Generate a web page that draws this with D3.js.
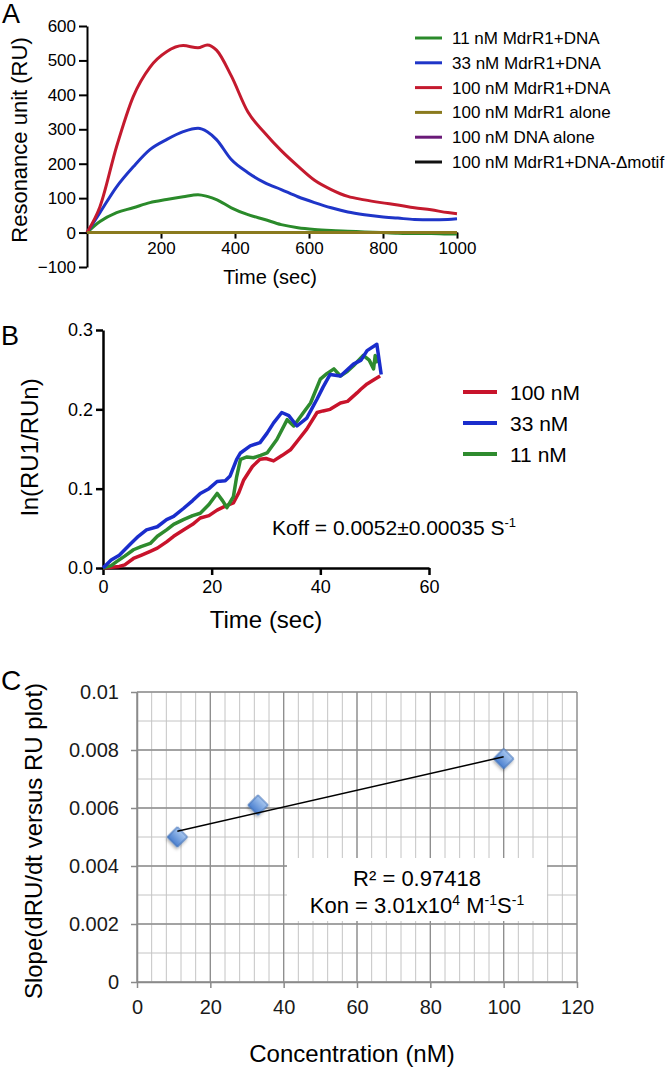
<!DOCTYPE html>
<html>
<head>
<meta charset="utf-8">
<script src="https://cdn.jsdelivr.net/npm/d3@7"></script>
<style>
  body { margin: 0; background: #fff; }
  svg { display: block; font-family: "Liberation Sans", Arial, sans-serif; }
</style>
</head>
<body>
<script>
// ---- panel A: sensorgrams ----
const timeA = [0, 35, 80, 125, 170, 215, 260, 300, 325, 350, 390, 435, 480, 525, 570, 615, 660, 705, 750, 795, 840, 885, 930, 975, 1000];
const ru11 = [0, 32, 58, 72, 87, 96, 104, 110, 105, 96, 72, 52, 38, 23, 14, 9, 6, 4, 2, 0, -2, -3, -3, -4, -4];
const ru33 = [0, 58, 133, 191, 241, 270, 293, 303, 293, 270, 212, 174, 145, 125, 104, 87, 72, 60, 52, 46, 42, 38, 37, 38, 40];
const ru100 = [0, 75, 250, 395, 480, 525, 543, 537, 545, 530, 455, 350, 290, 238, 193, 152, 125, 105, 95, 87, 80, 72, 66, 58, 55];
const timeFlat = [0, 1000];
const ruMdrAlone = [0, 0];
const ruDnaAlone = [0, 0];
const ruDeltaMotif = [0, 0];
const legendA = ["11 nM MdrR1+DNA", "33 nM MdrR1+DNA", "100 nM MdrR1+DNA", "100 nM MdrR1 alone", "100 nM DNA alone", "100 nM MdrR1+DNA-\u0394motif"];
const colorsA = ["#2a8a2a", "#1f35c8", "#c41a2e", "#8a7a1e", "#6a1a78", "#111111"];
const yTicksA = [-100, 0, 100, 200, 300, 400, 500, 600];
const xTicksA = [200, 400, 600, 800, 1000];

// ---- panel B: ln(RU1/RUn) vs time ----
const tB100 = [0, 3, 4, 5.6, 7, 8.7, 10, 11.7, 13, 14.8, 16.5, 17.9, 19.5, 21, 22.5, 24, 25, 25.9, 27.5, 28.9, 30, 31.4, 33, 34.5, 36, 37.5, 39.4, 40.5, 41.8, 43.7, 45, 46.8, 47.4, 48.6, 50, 51];
const vB100 = [0, 0.002, 0.004, 0.012, 0.016, 0.021, 0.025, 0.033, 0.040, 0.048, 0.055, 0.063, 0.066, 0.073, 0.078, 0.082, 0.095, 0.111, 0.128, 0.137, 0.138, 0.135, 0.142, 0.149, 0.162, 0.175, 0.196, 0.198, 0.200, 0.208, 0.210, 0.221, 0.225, 0.232, 0.238, 0.242];
const tB33 = [0, 1.5, 3, 5, 6.5, 8, 10, 11.7, 13, 14.8, 16.5, 17.9, 19.5, 21, 22.5, 23.4, 24.6, 25.3, 27.1, 28.9, 30.2, 31.4, 32.9, 34.2, 35.7, 37.5, 39.4, 40.5, 41.8, 43.7, 45, 46.1, 47.5, 48.6, 50.4, 51.2];
const vB33 = [0, 0.010, 0.016, 0.030, 0.040, 0.048, 0.052, 0.061, 0.065, 0.075, 0.085, 0.094, 0.100, 0.109, 0.110, 0.116, 0.137, 0.145, 0.154, 0.158, 0.170, 0.183, 0.196, 0.192, 0.179, 0.189, 0.213, 0.228, 0.244, 0.242, 0.250, 0.257, 0.262, 0.274, 0.282, 0.244];
const tB11 = [0, 1.5, 2.5, 4, 5.6, 7, 8.7, 10, 11.7, 13, 14.8, 16.5, 17.9, 19.5, 21, 22, 22.8, 24, 24.6, 25.3, 26.5, 27.7, 29, 30.2, 32, 33.9, 35.1, 36.9, 38.2, 40, 41.2, 42.5, 43.7, 45, 46.1, 47.9, 49, 49.8, 50.1, 50.5];
const vB11 = [0, 0.003, 0.008, 0.015, 0.023, 0.027, 0.031, 0.040, 0.048, 0.055, 0.061, 0.066, 0.069, 0.080, 0.094, 0.085, 0.076, 0.090, 0.115, 0.137, 0.140, 0.139, 0.142, 0.145, 0.162, 0.187, 0.179, 0.196, 0.208, 0.238, 0.245, 0.251, 0.242, 0.248, 0.255, 0.268, 0.262, 0.251, 0.268, 0.258];
const legendB = ["100 nM", "33 nM", "11 nM"];
const colorsB = ["#c8132b", "#1a2dcc", "#2e8b2e"];
const yTicksB = [0, 0.1, 0.2, 0.3];
const xTicksB = [0, 20, 40, 60];

// ---- panel C: slope vs concentration ----
const concC = [11, 33, 100];
const slopeC = [0.0050, 0.0061, 0.0077];
const xTicksC = [0, 20, 40, 60, 80, 100, 120];
const yTicksC = [0, 0.002, 0.004, 0.006, 0.008, 0.01];

const FONT = "Liberation Sans, Arial, sans-serif";

const svg = d3.select("body").append("svg")
  .attr("width", 666)
  .attr("height", 1070);

function styleAxis(g, color, width, size, textColor) {
  g.attr("font-family", FONT).attr("font-size", size);
  g.selectAll("path, line").attr("stroke", color).attr("stroke-width", width);
  g.selectAll("text").attr("fill", textColor || "#000");
}

/* ========== Panel A ========== */
const xA = d3.scaleLinear().domain([0, 1000]).range([87, 457]);
const yA = d3.scaleLinear().domain([-100, 600]).range([267, 26]);

svg.append("g")
  .attr("transform", `translate(${xA(0)},0)`)
  .call(d3.axisLeft(yA).tickValues(yTicksA).tickSize(8).tickSizeOuter(0).tickPadding(3))
  .call(g => styleAxis(g, "#000", 2, 17));

svg.append("g")
  .attr("transform", `translate(0,${yA(0)})`)
  .call(d3.axisBottom(xA).tickValues(xTicksA).tickFormat(d3.format("d")).tickSize(6).tickSizeOuter(0).tickPadding(3))
  .call(g => styleAxis(g, "#000", 2, 17));

const lineA = (ts) => d3.line()
  .x((d, i) => xA(ts[i]))
  .y(d => yA(d))
  .curve(d3.curveMonotoneX);

const seriesA = [
  {t: timeFlat, v: ruDeltaMotif, c: colorsA[5]},
  {t: timeFlat, v: ruDnaAlone, c: colorsA[4]},
  {t: timeA, v: ru11, c: colorsA[0]},
  {t: timeA, v: ru33, c: colorsA[1]},
  {t: timeA, v: ru100, c: colorsA[2]},
  {t: timeFlat, v: ruMdrAlone, c: colorsA[3]}
];
svg.append("g").selectAll("path")
  .data(seriesA)
  .join("path")
  .attr("fill", "none")
  .attr("stroke", d => d.c)
  .attr("stroke-width", 3)
  .attr("d", d => lineA(d.t)(d.v));

// legend A
const legA = svg.append("g").selectAll("g")
  .data(legendA)
  .join("g")
  .attr("transform", (d, i) => `translate(0,${38 + i * 24.8})`);
legA.append("line")
  .attr("x1", 415).attr("x2", 442)
  .attr("stroke", (d, i) => colorsA[i])
  .attr("stroke-width", 3);
legA.append("text")
  .attr("x", 452).attr("y", 6)
  .attr("font-size", 17)
  .text(d => d);

svg.append("text")
  .attr("transform", "translate(27,140) rotate(-90)")
  .attr("text-anchor", "middle")
  .attr("font-size", 22)
  .text("Resonance unit (RU)");
svg.append("text")
  .attr("x", 270).attr("y", 284)
  .attr("text-anchor", "middle")
  .attr("font-size", 20)
  .text("Time (sec)");
svg.append("text").attr("x", 2).attr("y", 23).attr("font-size", 27).text("A");

/* ========== Panel B ========== */
const xB = d3.scaleLinear().domain([0, 60]).range([103, 429]);
const yB = d3.scaleLinear().domain([0, 0.3]).range([568, 330]);

svg.append("g")
  .attr("transform", `translate(${xB(0)},0)`)
  .call(d3.axisLeft(yB).tickValues(yTicksB).tickFormat(d3.format(".1f")).tickSize(7).tickSizeOuter(0).tickPadding(3))
  .call(g => styleAxis(g, "#000", 2.5, 18));

svg.append("g")
  .attr("transform", `translate(0,${yB(0)})`)
  .call(d3.axisBottom(xB).tickValues(xTicksB).tickSize(7).tickSizeOuter(0).tickPadding(5))
  .call(g => styleAxis(g, "#000", 2.5, 18));

const lineB = (ts) => d3.line()
  .x((d, i) => xB(ts[i]))
  .y(d => yB(d));

const seriesB = [
  {t: tB100, v: vB100, c: colorsB[0]},
  {t: tB11, v: vB11, c: colorsB[2]},
  {t: tB33, v: vB33, c: colorsB[1]}
];
svg.append("g").selectAll("path")
  .data(seriesB)
  .join("path")
  .attr("fill", "none")
  .attr("stroke", d => d.c)
  .attr("stroke-width", 3.5)
  .attr("stroke-linejoin", "round")
  .attr("d", d => lineB(d.t)(d.v));

const legB = svg.append("g").selectAll("g")
  .data(legendB)
  .join("g")
  .attr("transform", (d, i) => `translate(0,${392 + i * 31})`);
legB.append("line")
  .attr("x1", 463).attr("x2", 497)
  .attr("stroke", (d, i) => colorsB[i])
  .attr("stroke-width", 4);
legB.append("text")
  .attr("x", 510).attr("y", 7.5)
  .attr("font-size", 21)
  .text(d => d);

const koff = svg.append("text")
  .attr("x", 272).attr("y", 535)
  .attr("font-size", 21);
koff.append("tspan").text("Koff = 0.0052\u00b10.00035 S");
koff.append("tspan").attr("font-size", 13).attr("dy", -8).text("-1");

svg.append("text")
  .attr("transform", "translate(38,447) rotate(-90)")
  .attr("text-anchor", "middle")
  .attr("font-size", 24)
  .text("ln(RU1/RUn)");
svg.append("text")
  .attr("x", 266).attr("y", 628)
  .attr("text-anchor", "middle")
  .attr("font-size", 24)
  .text("Time (sec)");
svg.append("text").attr("x", 1).attr("y", 345).attr("font-size", 27).text("B");

/* ========== Panel C ========== */
const xC = d3.scaleLinear().domain([0, 120]).range([137, 577]);
const yC = d3.scaleLinear().domain([0, 0.01]).range([982, 692]);

const grid = svg.append("g");
grid.selectAll("line.vminor")
  .data(d3.range(0, 121, 4))
  .join("line")
  .attr("class", "vminor")
  .attr("x1", d => xC(d)).attr("x2", d => xC(d))
  .attr("y1", yC(0)).attr("y2", yC(0.01))
  .attr("stroke", "#c4c4c4").attr("stroke-width", 1);
grid.selectAll("line.hminor")
  .data(d3.range(0, 11).map(d => d / 1000))
  .join("line")
  .attr("class", "hminor")
  .attr("x1", xC(0)).attr("x2", xC(120))
  .attr("y1", d => yC(d)).attr("y2", d => yC(d))
  .attr("stroke", "#c4c4c4").attr("stroke-width", 1);
grid.selectAll("line.vmajor")
  .data(xTicksC)
  .join("line")
  .attr("class", "vmajor")
  .attr("x1", d => xC(d)).attr("x2", d => xC(d))
  .attr("y1", yC(0)).attr("y2", yC(0.01))
  .attr("stroke", "#8e8e8e").attr("stroke-width", 1.3);
grid.selectAll("line.hmajor")
  .data(yTicksC)
  .join("line")
  .attr("class", "hmajor")
  .attr("x1", xC(0)).attr("x2", xC(120))
  .attr("y1", d => yC(d)).attr("y2", d => yC(d))
  .attr("stroke", "#8e8e8e").attr("stroke-width", 1.3);

const fmtC = d => d === 0 ? "0" : String(+d.toFixed(3));
svg.append("g")
  .attr("transform", `translate(${xC(0)},0)`)
  .call(d3.axisLeft(yC).tickValues(yTicksC).tickFormat(fmtC).tickSize(6).tickSizeOuter(0).tickPadding(12))
  .call(g => styleAxis(g, "#8a8a8a", 1.5, 20, "#1a1a1a"));
svg.append("g")
  .attr("transform", `translate(0,${yC(0)})`)
  .call(d3.axisBottom(xC).tickValues(xTicksC).tickSize(6).tickSizeOuter(0).tickPadding(12))
  .call(g => styleAxis(g, "#8a8a8a", 1.5, 20, "#1a1a1a"));

// annotation box
svg.append("rect")
  .attr("x", 287).attr("y", 858)
  .attr("width", 260).attr("height", 63)
  .attr("fill", "#fff");

// diamonds
const defs = svg.append("defs");
const grad = defs.append("linearGradient")
  .attr("id", "dia").attr("x1", 0).attr("y1", 0).attr("x2", 0).attr("y2", 1);
grad.append("stop").attr("offset", "0%").attr("stop-color", "#a9c8f0");
grad.append("stop").attr("offset", "100%").attr("stop-color", "#4a7fcf");
const shadow = defs.append("filter").attr("id", "shd")
  .attr("x", "-50%").attr("y", "-50%").attr("width", "200%").attr("height", "200%");
shadow.append("feDropShadow")
  .attr("dx", 1).attr("dy", 2).attr("stdDeviation", 1.5)
  .attr("flood-color", "#000").attr("flood-opacity", 0.3);

const pts = concC.map((c, i) => ({x: c, y: slopeC[i]}));
svg.append("g").selectAll("path")
  .data(pts)
  .join("path")
  .attr("transform", d => `translate(${xC(d.x)},${yC(d.y)}) rotate(45)`)
  .attr("d", d3.symbol(d3.symbolSquare, 200))
  .attr("fill", "url(#dia)")
  .attr("stroke", "#3f70b8")
  .attr("stroke-width", 1)
  .attr("filter", "url(#shd)");

// least-squares trend line
const mx = d3.mean(concC), my = d3.mean(slopeC);
const sxy = d3.sum(concC, (c, i) => (c - mx) * (slopeC[i] - my));
const sxx = d3.sum(concC, c => (c - mx) ** 2);
const slope = sxy / sxx, icpt = my - slope * mx;
const x0 = d3.min(concC), x1 = d3.max(concC);
svg.append("line")
  .attr("x1", xC(x0)).attr("y1", yC(icpt + slope * x0))
  .attr("x2", xC(x1)).attr("y2", yC(icpt + slope * x1))
  .attr("stroke", "#000").attr("stroke-width", 1.5);

svg.append("text")
  .attr("x", 417).attr("y", 886)
  .attr("text-anchor", "middle")
  .attr("font-size", 22)
  .text("R\u00b2 = 0.97418");
const kon = svg.append("text")
  .attr("x", 417).attr("y", 913)
  .attr("text-anchor", "middle")
  .attr("font-size", 22);
kon.append("tspan").text("Kon = 3.01x10");
kon.append("tspan").attr("font-size", 14).attr("dy", -8).text("4");
kon.append("tspan").attr("dy", 8).text(" M");
kon.append("tspan").attr("font-size", 14).attr("dy", -8).text("-1");
kon.append("tspan").attr("dy", 8).text("S");
kon.append("tspan").attr("font-size", 14).attr("dy", -8).text("-1");

svg.append("text")
  .attr("transform", "translate(42,841) rotate(-90)")
  .attr("text-anchor", "middle")
  .attr("font-size", 24)
  .text("Slope(dRU/dt versus RU plot)");
svg.append("text")
  .attr("x", 352).attr("y", 1062)
  .attr("text-anchor", "middle")
  .attr("font-size", 24)
  .text("Concentration (nM)");
svg.append("text").attr("x", 1).attr("y", 690).attr("font-size", 28).text("C");
</script>
</body>
</html>
